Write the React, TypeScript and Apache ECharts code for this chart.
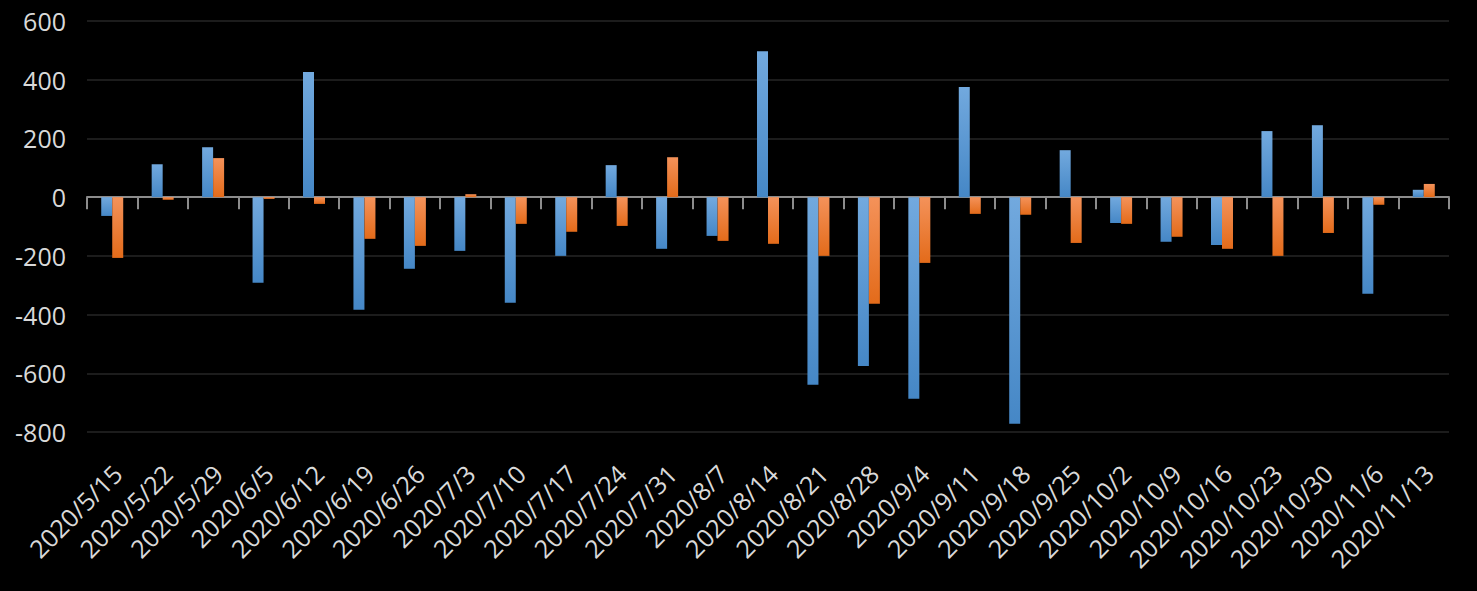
import React, { useEffect, useRef } from "react";
import * as echarts from "echarts";

const categories = [
  "2020/5/15", "2020/5/22", "2020/5/29", "2020/6/5", "2020/6/12", "2020/6/19",
  "2020/6/26", "2020/7/3", "2020/7/10", "2020/7/17", "2020/7/24", "2020/7/31",
  "2020/8/7", "2020/8/14", "2020/8/21", "2020/8/28", "2020/9/4", "2020/9/11",
  "2020/9/18", "2020/9/25", "2020/10/2", "2020/10/9", "2020/10/16", "2020/10/23",
  "2020/10/30", "2020/11/6", "2020/11/13",
];

const seriesBlue = [
  -64, 112, 170, -292, 426, -384, -244, -183, -360, -200, 109, -176, -132, 497,
  -639, -575, -687, 375, -772, 160, -88, -152, -163, 225, 245, -329, 25,
];

const seriesOrange = [
  -207, -9, 133, -6, -23, -142, -166, 10, -91, -118, -98, 136, -149, -159,
  -200, -363, -224, -57, -60, -156, -91, -135, -176, -200, -122, -26, 45,
];

const yTicks = { min: -800, max: 600, interval: 200 };

const textColor = "#d9d9d9";
const fontFamily = "'Open Sans', 'Noto Sans', sans-serif";

function grad(top: string, bottom: string) {
  return new echarts.graphic.LinearGradient(0, 0, 0, 1, [
    { offset: 0, color: top },
    { offset: 1, color: bottom },
  ]);
}

export default function App() {
  const ref = useRef<HTMLDivElement>(null);
  useEffect(() => {
    if (!ref.current) return;
    const chart = echarts.init(ref.current, null, { renderer: "svg" });
    chart.setOption({
      animation: false,
      backgroundColor: "#000000",
      grid: { left: 87, right: 28, top: 21, bottom: 159, containLabel: false },
      xAxis: [
        {
          type: "category",
          data: categories,
          position: "bottom",
          axisLine: { show: false, onZero: false },
          axisTick: { show: false },
          axisLabel: {
            interval: 0,
            rotate: 45,
            margin: 32,
            verticalAlign: "top",
            lineHeight: 14,
            color: textColor,
            fontSize: 25,
            fontFamily,
          },
          splitLine: { show: false },
        },
        {
          type: "category",
          data: categories,
          position: "bottom",
          axisLine: { show: true, onZero: true, lineStyle: { color: "#8c8c8c", width: 2 } },
          axisTick: { show: true, interval: 0, length: 12, lineStyle: { color: "#8c8c8c", width: 2 } },
          axisLabel: { show: false },
          splitLine: { show: false },
        },
      ],
      yAxis: {
        type: "value",
        min: yTicks.min,
        max: yTicks.max,
        interval: yTicks.interval,
        axisLine: { show: false },
        axisTick: { show: false },
        axisLabel: { color: textColor, fontSize: 25, fontFamily, margin: 21 },
        splitLine: { show: true, lineStyle: { color: "#262626", width: 1.5 } },
      },
      series: [
        {
          type: "bar",
          data: seriesBlue,
          xAxisIndex: 0,
          barWidth: 11,
          barGap: "0%",
          itemStyle: { color: grad("#72a9de", "#4587c6") },
        },
        {
          type: "bar",
          data: seriesOrange,
          xAxisIndex: 0,
          barWidth: 11,
          barGap: "0%",
          itemStyle: { color: grad("#f4925a", "#e36b1a") },
        },
      ],
    });
    return () => chart.dispose();
  }, []);
  return (
    <div
      ref={ref}
      style={{ position: "fixed", left: 0, top: 0, width: 1477, height: 591, background: "#000" }}
    />
  );
}
